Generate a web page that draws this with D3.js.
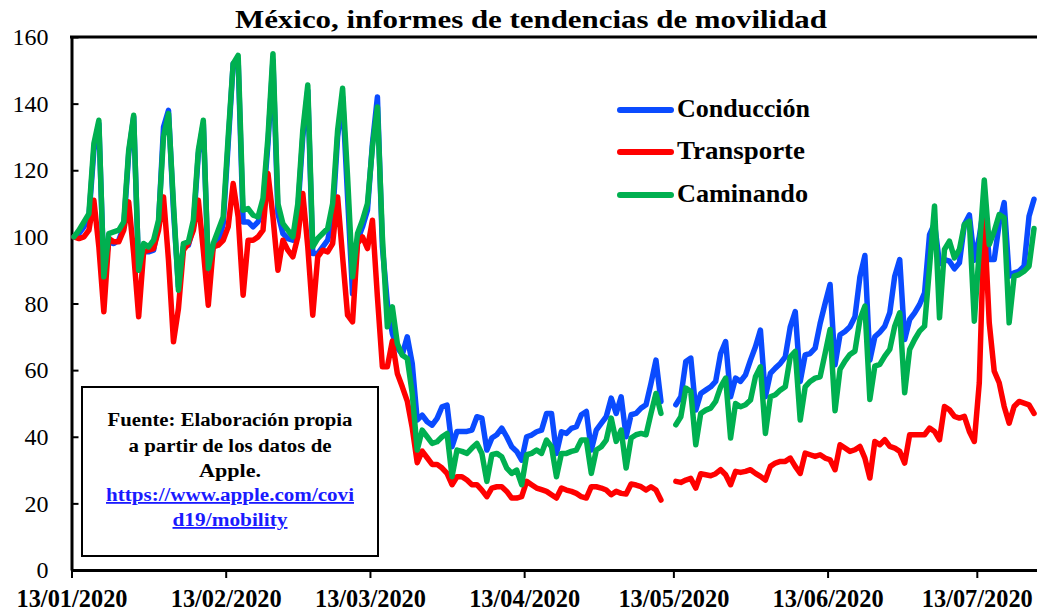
<!DOCTYPE html>
<html>
<head>
<meta charset="utf-8">
<script src="https://cdn.jsdelivr.net/npm/d3@7"></script>
<style>
    body { margin: 0; background: #fff; }
    text { font-family: "Liberation Serif", "Times New Roman", serif; }
</style>
</head>
<body>
<svg id="chart" width="1037" height="613"></svg>
<script>
// daily Apple mobility index, base 13/01/2020 = 100 (null = no data)
var startDate = "2020-01-13";
var xTickDates = ["2020-01-13", "2020-02-13", "2020-03-13", "2020-04-13", "2020-05-13", "2020-06-13", "2020-07-13"];
var yTicks = [0, 20, 40, 60, 80, 100, 120, 140, 160];
var seriesNames = ["Conducción", "Transporte", "Caminando"];

var conduccion = [
    100, 101, 103, 106, 126, 134, 89, 98.5, 98, 99,
    103, 125, 136, 90, 95.5, 95.5, 96, 104, 133, 138,
    108, 85, 97, 97.5, 103, 125, 134, 90, 97, 98,
    104, 128, 152, 153, 104.5, 104.5, 103, 104.5, 109, 128,
    153, 107, 101, 99.5, 99, 108, 130, 144, 95, 95,
    97, 99, 106, 130, 142, 112, 83, 99, 103, 108,
    128, 142, 97, 80, 71, 66.7, 64.7, 70, 62, 45,
    46.5, 44.5, 43.5, 45.5, 49, 49.5, 37, 41.6, 41.6, 41.6,
    42, 46, 45.6, 36, 39.6, 40.6, 42.6, 40, 37, 35.6,
    33, 40, 40.5, 41.5, 42, 47, 47, 35, 41.5, 41,
    42.5, 43, 46.6, 47.6, 36, 42, 44, 46, 51.6, 47,
    52, 40, 46.6, 47, 48.6, 49.6, 56, 63, 50.6, null,
    null, 49.6, 52, 62.6, 63.6, 48, 53, 54, 55, 56.6,
    65, 68.6, 52, 57.6, 56.6, 58.6, 63, 67, 72, 52,
    59, 60.6, 62, 64, 73, 77.6, 56.6, 64.6, 65, 66.6,
    74, 80, 85.7, 61.6, 70.6, 71.6, 73, 76, 88, 94.4,
    63, 70, 71.4, 73.2, 77.2, 88.2, 93.2, 69.2, 75.2, 77.2,
    79.7, 83.2, 100.7, 104, 92, 93.2, 92.7, 90.4, 92.2, 103.7,
    106.6, 93, 100, 110, 93.2, 93.2, 104, 110.3, 88.2, 89.2,
    89.7, 91.2, 106.2, 111.3
];

var transporte = [
    100, 99.5, 100, 102, 111, 97, 77.5, 99.5, 98.5, 98.5,
    102, 110.5, 95, 76, 95.5, 96, 96.5, 102, 112, 93,
    68.5, 78.5, 96, 98, 102, 111, 96, 79.5, 97, 97.5,
    99, 103, 116, 106, 82.5, 99, 99, 100, 102, 119,
    106, 90, 99, 96, 94, 100, 113, 97, 76.5, 94,
    96, 95.5, 98, 112, 94, 76.5, 74.5, 98, 100, 96.5,
    105, 82, 61, 61, 68.7, 59, 55, 50.7, 42.7, 32.2,
    35.7, 33.7, 31.7, 31.7, 30.6, 29, 25.6, 28, 28, 27,
    25.6, 25.6, 24, 22, 24.6, 25, 25, 23.6, 21.6, 21.6,
    22, 26.6, 25.6, 24.6, 24.1, 23.6, 22.6, 21.6, 24.6, 24,
    23.6, 23, 22, 21.6, 25, 25, 24.6, 24, 22.6, 23.6,
    23, 22.8, 25.8, 25.5, 25, 24, 25, 24, 21, null,
    null, 26.6, 26.3, 27, 27.5, 24.6, 28.9, 28.6, 28.3, 28.9,
    30.1, 28.6, 25.6, 29.6, 29.3, 29.6, 30.1, 29, 28.1, 27,
    31.1, 32.1, 32.6, 32.6, 33.6, 31.1, 29, 35.1, 34.6, 34.1,
    34.6, 33.6, 33.1, 30.1, 37.6, 36.6, 35.6, 36.1, 37.1, 33.6,
    27.6, 38.6, 37.6, 39.1, 37.1, 36.6, 35.6, 32.1, 40.6, 40.6,
    40.6, 40.6, 42.6, 41.6, 39.1, 49.1, 48.1, 46.1, 45.6, 46.1,
    41.6, 38.6, 56.2, 105, 74.2, 59.7, 56.2, 49.1, 44.1, 49.1,
    50.6, 50.1, 49.6, 47
];

var caminando = [
    100, 102, 104.5, 107, 128, 135, 88, 101, 101.5, 102,
    104.5, 126, 136.5, 90, 98, 97, 99, 105, 130, 137,
    110, 84, 98, 98.5, 105, 126, 135, 90.5, 98, 102,
    106, 130, 152, 154.5, 108, 108.5, 106.5, 106, 111.5, 130,
    155, 110, 104, 102, 100, 110, 132, 145.6, 97, 99.5,
    101, 102.5, 110, 132, 144.6, 118, 88, 101, 105, 110,
    127, 139, 100, 73, 79, 68, 64.5, 63.5, 53, 36,
    42, 40, 38, 38.5, 40, 41, 28, 36, 35.6, 35,
    36.6, 38, 35, 26.6, 34.6, 35, 34, 30.6, 29, 30,
    25.6, 34.6, 35, 36, 35, 39, 37, 28, 35, 35,
    35.6, 36, 39, 39, 29, 36, 37, 39, 45.6, 38.6,
    42, 30.6, 39.6, 40.6, 41, 40.6, 47, 53, 47, null,
    null, 43.6, 46, 54.6, 53.6, 37.6, 47, 48, 48.6, 50.6,
    55, 57.6, 39.6, 50, 49, 49.6, 51, 58, 61, 41,
    52, 52.6, 54, 55, 64, 65.6, 45, 55, 56.6, 57.6,
    58, 65, 72.2, 47.8, 60.2, 62.7, 64.7, 65.7, 75.2, 79.2,
    51.2, 61.2, 61.7, 64.2, 66.2, 73.2, 77.2, 53.2, 66.2, 69.2,
    71.7, 73.2, 91, 109.3, 75.7, 96.2, 98.7, 93.7, 96.2, 103.7,
    104.7, 74.7, 96, 117.1, 97.7, 101.7, 106.7, 105.7, 74.2, 88.2,
    88.7, 89.7, 91.2, 102.5
];

var colors = ["#0a4bff", "#ff0000", "#00b050"];

var svg = d3.select("#chart");
var margin = { top: 37, right: 0.5, bottom: 43, left: 71.5 };
var width = 1037, height = 613;

var parseDate = d3.utcParse("%Y-%m-%d");
var start = parseDate(startDate);

// one slot per day, point in the middle of its slot
var xScale = d3.scaleUtc()
    .domain([start, d3.utcDay.offset(start, 194)])
    .range([margin.left, width - margin.right]);
var yScale = d3.scaleLinear()
    .domain([0, 160])
    .range([height - margin.bottom, margin.top]);

function toPoints(values)
{
    return values.map(function (v, i)
    {
        return { date: d3.utcHour.offset(d3.utcDay.offset(start, i), 12), value: v };
    });
}

var data = [conduccion, transporte, caminando].map(function (values, k)
{
    return { name: seriesNames[k], color: colors[k], points: toPoints(values) };
});

// title
svg.append("text")
    .attr("x", 531)
    .attr("y", 28)
    .attr("text-anchor", "middle")
    .attr("font-size", 26)
    .attr("font-weight", "bold")
    .attr("textLength", 592)
    .attr("lengthAdjust", "spacingAndGlyphs")
    .text("México, informes de tendencias de movilidad");

// top border of the plot
svg.append("line")
    .attr("x1", margin.left - 1.5).attr("x2", width)
    .attr("y1", margin.top).attr("y2", margin.top)
    .attr("stroke", "#000").attr("stroke-width", 3);

// y axis, ticks point inward
var yAxis = svg.append("g")
    .attr("transform", "translate(" + margin.left + ",0)")
    .call(d3.axisLeft(yScale).tickValues(yTicks).tickSize(-7).tickSizeOuter(0).tickPadding(23));
yAxis.select(".domain").attr("stroke-width", 3);
yAxis.selectAll(".tick line").attr("stroke-width", 2);
yAxis.selectAll("text")
    .attr("font-size", 24)
    .attr("fill", "#000")
    .style("font-family", "'Liberation Serif', serif");

// x axis
var xAxis = svg.append("g")
    .attr("transform", "translate(0," + (height - margin.bottom) + ")")
    .call(d3.axisBottom(xScale)
        .tickValues(xTickDates.map(parseDate))
        .tickFormat(d3.utcFormat("%d/%m/%Y"))
        .tickSize(8).tickSizeOuter(0).tickPadding(12));
xAxis.select(".domain").attr("stroke-width", 3);
xAxis.selectAll(".tick line").attr("stroke-width", 2);
xAxis.selectAll("text")
    .attr("font-size", 24.5)
    .attr("font-weight", "bold")
    .attr("fill", "#000")
    .attr("textLength", 111)
    .attr("lengthAdjust", "spacingAndGlyphs")
    .style("font-family", "'Liberation Serif', serif");

var line = d3.line()
    .defined(function (d) { return d.value !== null; })
    .x(function (d) { return xScale(d.date); }) // middle of the day slot
    .y(function (d) { return yScale(d.value); });

svg.selectAll("path.serie")
    .data(data)
    .enter().append("path")
    .attr("class", "serie")
    .attr("fill", "none")
    .attr("stroke", function (d) { return d.color; })
    .attr("stroke-width", 5.5)
    .attr("stroke-linejoin", "round")
    .attr("stroke-linecap", "round")
    .attr("d", function (d) { return line(d.points); });

// legend
var legendY = [110, 152, 195];
var legendWidths = [133, 128, 131];
var legend = svg.selectAll("g.legend")
    .data(data)
    .enter().append("g")
    .attr("class", "legend")
    .attr("transform", function (d, i) { return "translate(618," + legendY[i] + ")"; });
legend.append("line")
    .attr("x1", 2).attr("x2", 53)
    .attr("stroke", function (d) { return d.color; })
    .attr("stroke-width", 6)
    .attr("stroke-linecap", "round");
legend.append("text")
    .attr("x", 59)
    .attr("y", 7)
    .attr("font-size", 26)
    .attr("font-weight", "bold")
    .attr("textLength", function (d, i) { return legendWidths[i]; })
    .attr("lengthAdjust", "spacingAndGlyphs")
    .text(function (d) { return d.name; });

// source box
svg.append("rect")
    .attr("x", 82).attr("y", 387)
    .attr("width", 296).attr("height", 169)
    .attr("fill", "#fff")
    .attr("stroke", "#000")
    .attr("stroke-width", 2);

var sourceLines = [
    { text: "Fuente: Elaboración propia", y: 426, w: 245, link: false },
    { text: "a partir de los datos de", y: 452, w: 203, link: false },
    { text: "Apple.", y: 477, w: 62, link: false },
    { text: "https://www.apple.com/covi", y: 501, w: 248, link: true },
    { text: "d19/mobility", y: 526, w: 115, link: true }
];
svg.selectAll("text.source")
    .data(sourceLines)
    .enter().append("text")
    .attr("class", "source")
    .attr("x", 230)
    .attr("y", function (d) { return d.y; })
    .attr("text-anchor", "middle")
    .attr("font-size", 18)
    .attr("font-weight", "bold")
    .attr("fill", function (d) { return d.link ? "#1a1aff" : "#000"; })
    .attr("text-decoration", function (d) { return d.link ? "underline" : null; })
    .attr("textLength", function (d) { return d.w; })
    .attr("lengthAdjust", "spacingAndGlyphs")
    .text(function (d) { return d.text; });
</script>
</body>
</html>
